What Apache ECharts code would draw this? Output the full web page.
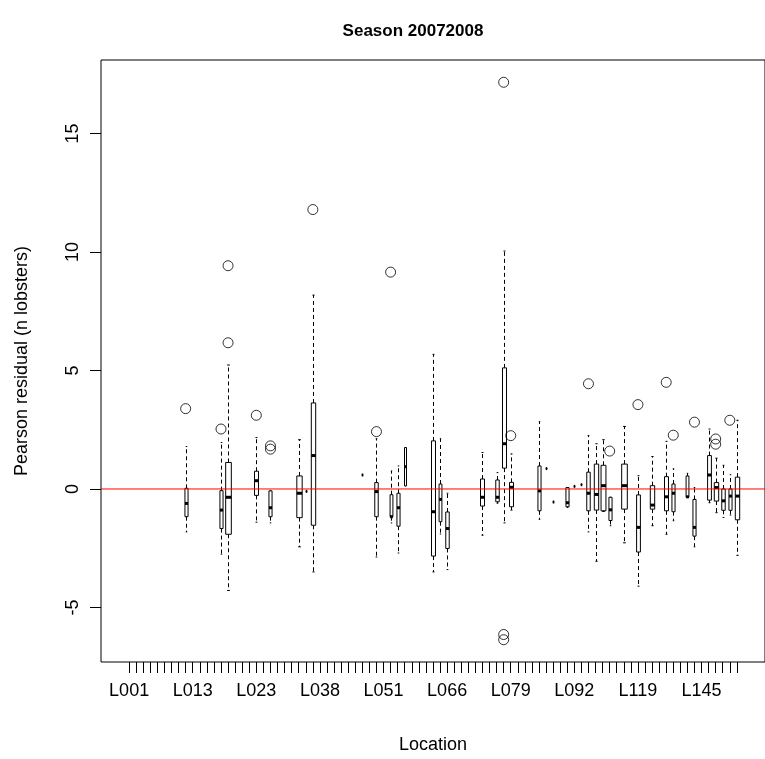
<!DOCTYPE html>
<html><head><meta charset="utf-8">
<script src="https://cdn.jsdelivr.net/npm/echarts@6/dist/echarts.min.js"></script>
<style>html,body{margin:0;padding:0;background:#fff}#c{width:765px;height:759px}</style>
</head><body><div id="c"></div>
<script>
// ---- categories (87 locations; only every 9th label is drawn) ----
const locations = [
 'L001','L002','L003','L004','L005','L007','L008','L010','L011',
 'L013','L014','L015','L016','L017','L018','L019','L020','L021',
 'L023','L024','L026','L028','L030','L031','L033','L035','L036',
 'L038','L039','L041','L042','L044','L045','L047','L048','L050',
 'L051','L053','L054','L056','L058','L059','L061','L062','L064',
 'L066','L067','L069','L070','L072','L073','L075','L076','L078',
 'L079','L080','L082','L083','L085','L086','L088','L089','L091',
 'L092','L094','L097','L101','L104','L107','L110','L113','L116',
 'L119','L122','L125','L128','L131','L134','L137','L140','L142',
 'L145','L148','L151','L154','L157','L160'
];
const labelIdx = [0, 9, 18, 27, 36, 45, 54, 63, 72, 81];
const yTicks = [-5, 0, 5, 10, 15];

// ---- box statistics (index into locations) ----
const boxIdx      = [8, 13, 14, 18, 20, 24, 25, 26, 33, 35, 37, 38, 39, 43, 44, 45, 50, 52, 53, 54, 58, 59, 60, 62, 63, 64, 65, 66, 67, 68, 70, 72, 74, 76, 77, 79, 80, 82, 83, 84, 85, 86];
const whiskerLow  = [-1.81,-2.75,-4.28,-1.40,-1.43,-2.44,-0.10,-3.50, 0.59,-2.87,-1.43,-2.70, 0.13,-3.50,-1.90,-3.40,-1.95,-0.60,-1.43,-0.89,-1.28, 0.86,-0.55,-0.78, 0.11, 0.18,-1.81,-3.05,-0.95,-1.55,-2.27,-4.10,-1.55,-1.91,-1.34,-0.35,-2.44,-0.58,-1.00,-1.20,-1.10,-2.80];
const q1          = [-1.17,-1.67,-1.91,-0.27,-1.17,-1.21,-0.10,-1.53, 0.59,-1.17,-1.17,-1.57, 0.13,-2.83,-1.38,-2.51,-0.72,-0.54, 0.88,-0.75,-0.92, 0.86,-0.55,-0.75, 0.11, 0.18,-0.92,-0.89,-0.92,-1.33,-0.85,-2.66,-0.85,-0.92,-0.96,-0.35,-1.99,-0.47,-0.51,-0.90,-0.90,-1.30];
const median      = [-0.61,-0.89,-0.35, 0.35,-0.79,-0.18,-0.10, 1.41, 0.59,-0.11,-1.17,-0.79, 0.94,-0.96,-0.44,-1.67,-0.35,-0.35, 1.91, 0.07,-0.08, 0.86,-0.55,-0.58, 0.11, 0.18,-0.18,-0.23, 0.14,-0.88, 0.14,-1.62,-0.68,-0.33,-0.18,-0.33,-1.62, 0.59, 0.06,-0.50,-0.30,-0.30];
const q3          = [ 0.03,-0.07, 1.12, 0.75,-0.08, 0.55,-0.10, 3.63, 0.59, 0.27,-0.24,-0.18, 1.75, 2.03, 0.21,-0.97, 0.42, 0.38, 5.11, 0.28, 0.97, 0.86,-0.55, 0.06, 0.11, 0.18, 0.71, 1.05, 1.00,-0.35, 1.05,-0.25, 0.14, 0.52, 0.21, 0.55,-0.44, 1.41, 0.27, 0.00, 0.00, 0.50];
const whiskerHigh = [ 1.79, 1.96, 5.23, 2.17,-0.08, 2.08,-0.10, 8.18, 0.59, 2.12, 0.76, 0.97, 1.75, 5.68, 2.12,-0.18, 1.54, 0.69,10.04, 1.48, 2.84, 0.86,-0.55, 0.06, 0.11, 0.18, 2.25, 1.91, 2.08,-0.35, 2.64, 0.56, 1.37, 2.01, 0.85, 0.66, 0.06, 2.53, 1.30, 1.00, 0.60, 2.90];
const nObs        = [12, 12, 40, 20, 12, 36, 1, 24, 1, 15, 10, 12, 5, 20, 10, 15, 20, 15, 20, 20, 12, 1, 1, 12, 1, 1, 15, 24, 30, 12, 40, 18, 24, 20, 12, 10, 12, 18, 24, 15, 12, 24];

// ---- outliers ----
const outlierIdx = [8, 13, 14, 14, 18, 20, 20, 26, 35, 37, 53, 53, 53, 54, 65, 68, 72, 76, 77, 80, 83, 83, 85];
const outlierVal = [3.39, 2.53, 9.42, 6.17, 3.11, 1.82, 1.68, 11.79, 2.42, 9.15, 17.16, -6.14, -6.36, 2.25, 4.44, 1.60, 3.56, 4.50, 2.27, 2.82, 2.11, 1.89, 2.90];

const refLevel = 0;

const maxN = Math.max(...nObs);
const nCat = locations.length;
const pad = 0.5 + 0.04 * nCat;

const boxData = boxIdx.map((c, k) => [c, whiskerLow[k], q1[k], median[k], q3[k], whiskerHigh[k], nObs[k]]);
const outData = outlierIdx.map((c, k) => [c, outlierVal[k]]);
const allIdx = locations.map((_, i) => i);

function renderBox(params, api) {
  const c = api.value(0);
  const lo = api.coord([c, api.value(1)]);
  const a = api.coord([c, api.value(2)]);
  const m = api.coord([c, api.value(3)]);
  const b = api.coord([c, api.value(4)]);
  const hi = api.coord([c, api.value(5)]);
  const unit = api.size([1, 0])[0];
  const w = Math.max(0.8 * unit * Math.sqrt(api.value(6) / maxN), 1.5);
  const x = Math.round(lo[0]) + 0.5;
  const dash = { stroke: '#000', lineWidth: 1, lineDash: [4, 3] };
  const solid = { stroke: '#000', lineWidth: 1 };
  return {
    type: 'group',
    children: [
      { type: 'line', shape: { x1: x, y1: b[1], x2: x, y2: hi[1] }, style: dash },
      { type: 'line', shape: { x1: x, y1: a[1], x2: x, y2: lo[1] }, style: dash },
      { type: 'line', shape: { x1: x - w / 4, y1: hi[1], x2: x + w / 4, y2: hi[1] }, style: solid },
      { type: 'line', shape: { x1: x - w / 4, y1: lo[1], x2: x + w / 4, y2: lo[1] }, style: solid },
      { type: 'rect', shape: { x: x - w / 2, y: b[1], width: w, height: a[1] - b[1] }, style: { fill: '#fff', stroke: '#000', lineWidth: 1 } },
      { type: 'line', shape: { x1: x - w / 2, y1: m[1], x2: x + w / 2, y2: m[1] }, style: { stroke: '#000', lineWidth: 3 } }
    ]
  };
}

const chart = echarts.init(document.getElementById('c'), null, { renderer: 'canvas' });
const font = 'Liberation Sans, Arial, sans-serif';
chart.setOption({
  animation: false,
  backgroundColor: '#fff',
  title: {
    text: 'Season 20072008', left: 408, top: 18, textAlign: 'center',
    textStyle: { fontFamily: font, fontWeight: 'bold', fontSize: 17, color: '#000' }
  },
  grid: { left: 101, top: 60, width: 665, height: 602, show: true, borderColor: '#000', borderWidth: 1, backgroundColor: 'transparent' },
  xAxis: {
    type: 'value', min: -pad, max: nCat - 1 + pad,
    name: 'Location', nameLocation: 'middle', nameGap: 74,
    nameTextStyle: { fontFamily: font, fontSize: 18, color: '#000' },
    axisLine: { show: false, onZero: false },
    splitLine: { show: false },
    axisTick: { show: true, inside: false, length: 11, customValues: allIdx, lineStyle: { color: '#000' } },
    axisLabel: {
      customValues: labelIdx, margin: 20, fontFamily: font, fontSize: 18, color: '#000',
      formatter: v => locations[Math.round(v)]
    }
  },
  yAxis: {
    type: 'value', min: -7.30, max: 18.10,
    name: 'Pearson residual (n lobsters)', nameLocation: 'middle', nameGap: 70, nameRotate: 90,
    nameTextStyle: { fontFamily: font, fontSize: 18, color: '#000' },
    axisLine: { show: false, onZero: false },
    splitLine: { show: false },
    axisTick: { show: true, inside: false, length: 11, customValues: yTicks, lineStyle: { color: '#000' } },
    axisLabel: { customValues: yTicks, rotate: 90, margin: 19, fontFamily: font, fontSize: 18, color: '#000' }
  },
  series: [
    {
      type: 'custom', renderItem: renderBox, data: boxData, clip: false, silent: true,
      encode: { x: 0, y: [1, 2, 3, 4, 5] }, z: 2
    },
    {
      type: 'scatter', data: outData, symbol: 'circle', symbolSize: 10, silent: true, z: 3,
      itemStyle: { color: 'rgba(0,0,0,0)', borderColor: '#000', borderWidth: 1 }
    },
    {
      type: 'line', data: [[-pad, refLevel], [nCat - 1 + pad, refLevel]], symbol: 'none', silent: true, z: 5,
      lineStyle: { color: '#ff0000', width: 1 }
    }
  ]
});
</script></body></html>
